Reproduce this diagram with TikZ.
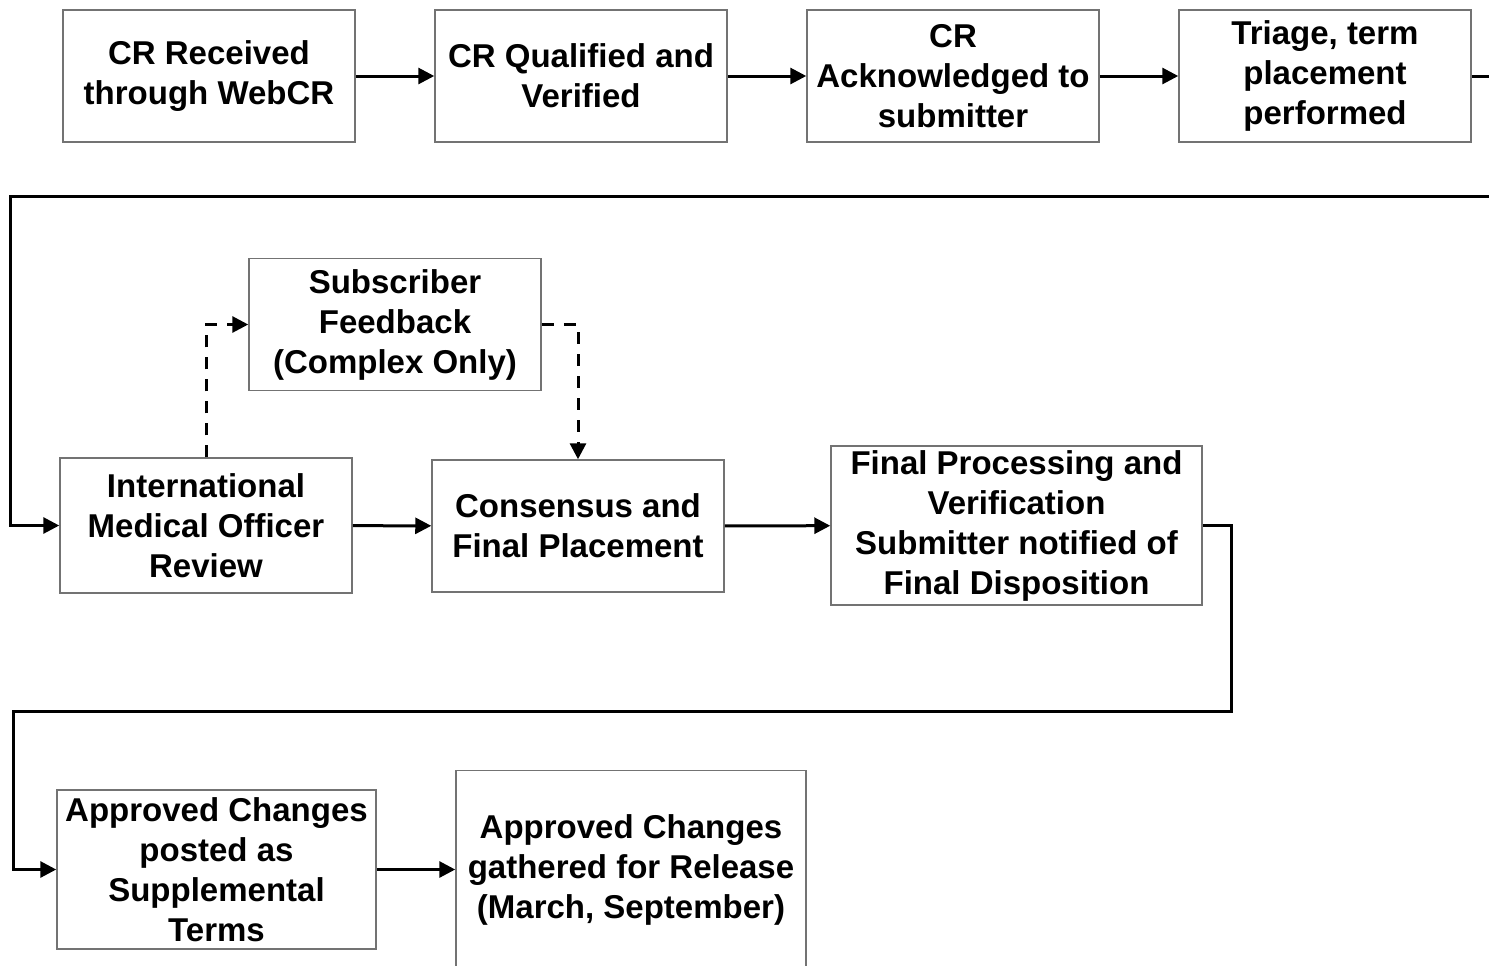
\documentclass[tikz,border=0pt]{standalone}
\usepackage{fontspec}
\setmainfont{Liberation Sans}
\usetikzlibrary{arrows.meta}
\tikzset{
	stepbox/.style={draw=black!55,line width=0.75pt,inner sep=0pt,align=center,
		font=\fontsize{16.5}{20}\selectfont\bfseries,minimum width=146pt,minimum height=66pt},
	conn/.style={line width=1.5pt,-{Triangle[length=8pt,width=8pt]}},
	dconn/.style={conn,dash pattern=on 6pt off 5pt}
}
\begin{document}
\begin{tikzpicture}[x=0.5pt,y=-0.5pt]
	
	\useasboundingbox (0,0) rectangle (1489,965);
	\clip (0,0) rectangle (1489,965);
	\fill[white] (0,0) rectangle (1489,965);
	
	\node[stepbox] (received) at (209,76) {CR Received\\through WebCR};
	\node[stepbox] (qualified) at (581,76) {CR Qualified and\\Verified};
	\node[stepbox] (acknowledged) at (953,76) {CR\\Acknowledged to\\submitter};
	\node[stepbox] (triage) at (1325,76) {Triage, term\\placement\\performed};
	
	\node[stepbox,minimum height=67.5pt] (imo) at (206,525.5) {International\\Medical Officer\\Review};
	\node[stepbox] (feedback) at (395,324.5) {Subscriber\\Feedback\\(Complex Only)};
	\node[stepbox] (consensus) at (578,526) {Consensus and\\Final Placement};
	\node[stepbox,minimum width=185.5pt,minimum height=79.5pt] (final) at (1016.5,525.5)
		{Final Processing and\\Verification\\Submitter notified of\\Final Disposition};
	
	\node[stepbox,minimum width=159.5pt,minimum height=79.5pt] (posted) at (216.5,869.5)
		{Approved Changes\\posted as\\Supplemental\\Terms};
	\node[stepbox,minimum width=175pt,minimum height=99pt] (gathered) at (631,869.5)
		{Approved Changes\\gathered for Release\\(March, September)};
	
	\draw[conn] (received) -- (qualified);
	\draw[conn] (qualified) -- (acknowledged);
	\draw[conn] (acknowledged) -- (triage);
	\draw[conn] (triage.east) -- ++(60,0) |- (10,196) |- (imo.west);
	\draw[conn] (imo) -- (consensus);
	\draw[dconn] (imo.north) |- (feedback.west);
	\draw[dconn] (feedback.east) -| (consensus.north);
	\draw[conn] (consensus) -- (final);
	\draw[conn] (final.east) -- ++(29,0) |- (13,711) |- (posted.west);
	\draw[conn] (posted) -- (gathered);
	
\end{tikzpicture}
\end{document}
